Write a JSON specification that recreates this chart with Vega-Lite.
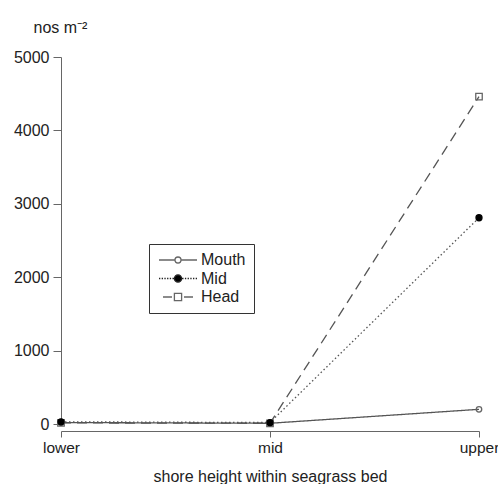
{
  "$schema": "https://vega.github.io/schema/vega-lite/v6.json",
  "autosize": "none",
  "width": 418,
  "height": 367,
  "padding": {"left": 61, "top": 57, "right": 19, "bottom": 60},
  "background": "white",
  "config": {
    "view": {"stroke": null},
    "font": "Liberation Sans",
    "axis": {
      "labelFont": "Liberation Sans",
      "labelFontSize": 16,
      "labelColor": "#222",
      "titleFont": "Liberation Sans",
      "titleFontSize": 16,
      "titleFontWeight": "normal",
      "titleColor": "#222",
      "domainColor": "#666",
      "tickColor": "#666",
      "grid": false
    }
  },
  "data": {
    "values": [
      {"height": "lower", "site": "Mouth", "value": 20},
      {"height": "mid", "site": "Mouth", "value": 10},
      {"height": "upper", "site": "Mouth", "value": 200},
      {"height": "lower", "site": "Head", "value": 15},
      {"height": "mid", "site": "Head", "value": 10},
      {"height": "upper", "site": "Head", "value": 4460},
      {"height": "lower", "site": "Mid", "value": 30},
      {"height": "mid", "site": "Mid", "value": 20},
      {"height": "upper", "site": "Mid", "value": 2810}
    ]
  },
  "layer": [
    {
      "mark": {"type": "line", "strokeWidth": 1.3, "color": "#555"},
      "encoding": {
        "x": {"field": "height", "type": "ordinal", "sort": ["lower", "mid", "upper"],
          "scale": {"type": "point", "padding": 0},
          "axis": {"labelAngle": 0, "offset": 7, "tickSize": 6, "labelPadding": 3, "labelFontSize": 15.5, "title": "shore height within seagrass bed", "titlePadding": 13}},
        "y": {"field": "value", "type": "quantitative", "scale": {"domain": [0, 5000], "nice": false},
          "axis": {"values": [0, 1000, 2000, 3000, 4000, 5000], "format": "d", "tickSize": 8, "labelPadding": 4,
            "title": "nos m⁻²", "titleAngle": 0, "titleAlign": "left", "titleBaseline": "alphabetic", "titleX": -28, "titleY": -25}},
        "detail": {"field": "site"},
        "strokeDash": {"field": "site", "type": "nominal",
          "scale": {"domain": ["Mouth", "Mid", "Head"], "range": [[1, 0], [1.5, 2.5], [10, 6]]}, "legend": null}
      }
    },
    {
      "mark": {"type": "point", "opacity": 1, "strokeWidth": 1.3, "filled": false},
      "encoding": {
        "x": {"field": "height", "type": "ordinal", "sort": ["lower", "mid", "upper"]},
        "y": {"field": "value", "type": "quantitative"},
        "shape": {"field": "site", "type": "nominal", "scale": {"domain": ["Mouth", "Mid", "Head"], "range": ["circle", "circle", "square"]}, "legend": null},
        "fill": {"field": "site", "type": "nominal", "scale": {"domain": ["Mouth", "Mid", "Head"], "range": ["transparent", "black", "transparent"]}, "legend": null},
        "stroke": {"field": "site", "type": "nominal", "scale": {"domain": ["Mouth", "Mid", "Head"], "range": ["#666", "black", "#666"]}, "legend": null},
        "size": {"field": "site", "type": "nominal", "scale": {"domain": ["Mouth", "Mid", "Head"], "range": [30, 42, 50]}, "legend": null}
      }
    },
    {
      "transform": [{"filter": "false"}],
      "mark": {"type": "point", "opacity": 1, "strokeWidth": 1.3, "filled": false},
      "encoding": {
        "shape": {"field": "site", "type": "nominal",
          "scale": {"domain": ["Mouth", "Mid", "Head"], "range": [
            "M-3.17,0H-0.5M0.5,0H3.17M0.5,0A0.5,0.5,0,1,1,-0.5,0A0.5,0.5,0,1,1,0.5,0Z",
            "M-3.17,0h0.22M-2.72,0h0.22M-2.27,0h0.22M-1.82,0h0.22M-1.37,0h0.22M-0.92,0h0.22M0.7,0h0.22M1.15,0h0.22M1.6,0h0.22M2.05,0h0.22M2.5,0h0.22M2.95,0h0.22M0.6,0A0.6,0.6,0,1,1,-0.6,0A0.6,0.6,0,1,1,0.6,0Z",
            "M-2.5,0H-1M1,0H2.5M-0.6,-0.6H0.6V0.6H-0.6Z"
          ]},
          "legend": {"title": null, "orient": "none", "legendX": 88, "legendY": 187, "padding": 8,
            "strokeColor": "#333", "labelFont": "Liberation Sans", "labelFontSize": 16, "labelColor": "#222",
            "symbolSize": 144, "symbolOffset": 13, "labelOffset": 15, "rowPadding": 2.5, "symbolStrokeWidth": 1.3, "symbolOpacity": 1}},
        "fill": {"field": "site", "type": "nominal", "scale": {"domain": ["Mouth", "Mid", "Head"], "range": ["transparent", "black", "transparent"]}},
        "stroke": {"field": "site", "type": "nominal", "scale": {"domain": ["Mouth", "Mid", "Head"], "range": ["#666", "#222", "#666"]}}
      }
    }
  ],
  "resolve": {
    "scale": {"shape": "independent", "fill": "independent", "stroke": "independent"},
    "legend": {"shape": "independent", "fill": "independent", "stroke": "independent"}
  }
}
